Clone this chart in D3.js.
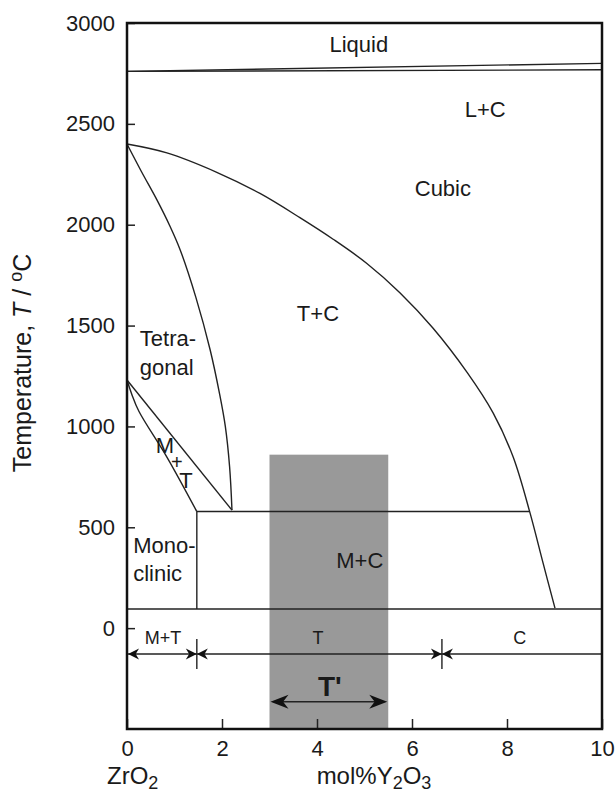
<!DOCTYPE html>
<html>
<head>
<meta charset="utf-8">
<script src="https://cdn.jsdelivr.net/npm/d3@7"></script>
<style>
  body { margin: 0; background: #fff; }
  svg text { font-family: "Liberation Sans", Arial, Helvetica, sans-serif; fill: #1a1a1a; }
</style>
</head>
<body>
<div id="chart"></div>
<script>
// phase boundaries, [mol% Y2O3, temperature in C]
var liquidus = [[0, 2760], [10, 2800]];
var solidus = [[0, 2760], [10, 2768]];
var cubicBoundary = [[0, 2400], [0.84, 2356], [1.89, 2260], [2.8, 2155], [3.64, 2035], [4.34, 1928],
  [5.05, 1808], [5.75, 1662], [6.44, 1488], [7.16, 1268], [7.71, 1066], [8.13, 848],
  [8.48, 575], [8.76, 322], [9.01, 99]];
var tetragonalBoundary = [[0, 2400], [0.3, 2265], [0.63, 2123], [0.9, 1995], [1.12, 1875],
  [1.45, 1640], [1.75, 1380], [1.95, 1160], [2.07, 1000], [2.16, 800], [2.21, 585]];
var mtUpper = [[0, 1230], [2.21, 585]];
var mtLower = [[0, 1230], [0.1, 1160], [0.25, 1075], [0.84, 848], [1.47, 578]];
var monoclinicEdge = [[1.47, 578], [1.47, 95]];
var eutectoid = [[1.47, 578], [8.48, 578]];
var lowLine = [[0, 95], [10, 95]];

// room temperature phase fields
var roomT = -128;
var roomBounds = [0, 1.47, 6.63, 10];
var roomLabels = ["M+T", "T", "C"];
var roomLabelX = [0.76, 4.02, 8.27];

// metastable tetragonal window
var tPrimeRange = [3.0, 5.5];
var tPrimeTop = 860;
var tPrimeArrowT = -365;

// region labels: [text, x, T]
var regionLabels = [["Liquid", 4.88, 2892], ["L+C", 7.54, 2570], ["Cubic", 6.65, 2183],
  ["T+C", 4.02, 1563], ["M+C", 4.9, 337]];

var xTicks = [0, 2, 4, 6, 8, 10];
var yTicks = [0, 500, 1000, 1500, 2000, 2500, 3000];

var w = 615, h = 796;
var x = d3.scaleLinear().domain([0, 10]).range([127, 602]);
var y = d3.scaleLinear().domain([-500, 3000]).range([729, 23]);

var svg = d3.select("#chart").append("svg")
  .attr("width", w)
  .attr("height", h);

// grey T' band
svg.append("rect")
  .attr("x", x(tPrimeRange[0]))
  .attr("y", y(tPrimeTop))
  .attr("width", x(tPrimeRange[1]) - x(tPrimeRange[0]))
  .attr("height", y(-500) - y(tPrimeTop))
  .attr("fill", "#999");

var straight = d3.line()
  .x(function(d) { return x(d[0]); })
  .y(function(d) { return y(d[1]); });
var smooth = d3.line()
  .x(function(d) { return x(d[0]); })
  .y(function(d) { return y(d[1]); })
  .curve(d3.curveCatmullRom.alpha(0.5));

var lines = svg.append("g")
  .attr("fill", "none")
  .attr("stroke", "#222")
  .attr("stroke-width", 1.4);

[liquidus, solidus, mtUpper, monoclinicEdge, eutectoid, lowLine].forEach(function(d) {
  lines.append("path").attr("d", straight(d));
});
[cubicBoundary, tetragonalBoundary, mtLower].forEach(function(d) {
  lines.append("path").attr("d", smooth(d));
});

// room temperature arrows
lines.append("line")
  .attr("x1", x(0)).attr("x2", x(10))
  .attr("y1", y(roomT)).attr("y2", y(roomT));

function arrowHead(g, tipX, tipY, dir, len, half) {
  var notch = len * 0.3;
  g.append("path")
    .attr("d", "M" + tipX + "," + tipY +
      "L" + (tipX - dir * len) + "," + (tipY - half) +
      "L" + (tipX - dir * (len - notch)) + "," + tipY +
      "L" + (tipX - dir * len) + "," + (tipY + half) + "Z")
    .attr("fill", "#111")
    .attr("stroke", "none");
}

var arrows = svg.append("g");
arrowHead(arrows, x(roomBounds[0]) + 1, y(roomT), -1, 11, 5.5);
roomBounds.slice(1, 3).forEach(function(b) {
  arrowHead(arrows, x(b), y(roomT), 1, 11, 5.5);
  arrowHead(arrows, x(b), y(roomT), -1, 11, 5.5);
  arrows.append("line")
    .attr("x1", x(b)).attr("x2", x(b))
    .attr("y1", y(roomT) - 15).attr("y2", y(roomT) + 15)
    .attr("stroke", "#222").attr("stroke-width", 1.4);
});

svg.selectAll(".roomlabel")
  .data(roomLabels)
  .enter().append("text")
  .attr("class", "roomlabel")
  .attr("x", function(d, i) { return x(roomLabelX[i]); })
  .attr("y", y(roomT) - 10)
  .attr("text-anchor", "middle")
  .attr("font-size", 18)
  .text(function(d) { return d; });

// T' arrow
lines.append("line")
  .attr("x1", x(tPrimeRange[0]) + 4).attr("x2", x(tPrimeRange[1]) - 4)
  .attr("y1", y(tPrimeArrowT)).attr("y2", y(tPrimeArrowT));
arrowHead(arrows, x(tPrimeRange[0]) + 1, y(tPrimeArrowT), -1, 18, 7);
arrowHead(arrows, x(tPrimeRange[1]) - 1, y(tPrimeArrowT), 1, 18, 7);
svg.append("text")
  .attr("x", x(4.27))
  .attr("y", y(tPrimeArrowT) - 6)
  .attr("text-anchor", "middle")
  .attr("font-size", 28)
  .attr("font-weight", "bold")
  .text("T'");

// region labels
svg.selectAll(".region")
  .data(regionLabels)
  .enter().append("text")
  .attr("class", "region")
  .attr("x", function(d) { return x(d[1]); })
  .attr("y", function(d) { return y(d[2]); })
  .attr("dy", "0.35em")
  .attr("text-anchor", "middle")
  .attr("font-size", 22)
  .text(function(d) { return d[0]; });

function stacked(words, vx, temps, anchor, size) {
  words.forEach(function(wd, i) {
    svg.append("text")
      .attr("x", x(vx[i]))
      .attr("y", y(temps[i]))
      .attr("dy", "0.35em")
      .attr("text-anchor", anchor)
      .attr("font-size", size[i])
      .text(wd);
  });
}
stacked(["Tetra-", "gonal"], [0.27, 0.27], [1438, 1295], "start", [22, 22]);
stacked(["Mono-", "clinic"], [0.13, 0.13], [412, 273], "start", [22, 22]);
stacked(["M", "+", "T"], [0.8, 1.05, 1.24], [908, 823, 734], "middle", [22, 20, 22]);

// axes
var yAxis = d3.axisLeft(y).tickValues(yTicks).tickFormat(d3.format("d")).tickSize(-8).tickPadding(12);
var xAxis = d3.axisBottom(x).tickValues(xTicks).tickFormat(d3.format("d")).tickSize(-10).tickPadding(11);

var gy = svg.append("g").attr("transform", "translate(" + x(0) + ",0)").call(yAxis);
var gx = svg.append("g").attr("transform", "translate(0," + y(-500) + ")").call(xAxis);
[gx, gy].forEach(function(g) {
  g.select(".domain").remove();
  g.selectAll(".tick line").attr("stroke", "#222").attr("stroke-width", 1.5);
  g.selectAll(".tick text")
    .attr("font-size", 22)
    .attr("font-family", "Liberation Sans, Arial, sans-serif")
    .attr("fill", "#1a1a1a");
});

// frame
svg.append("rect")
  .attr("x", x(0)).attr("y", y(3000))
  .attr("width", x(10) - x(0))
  .attr("height", y(-500) - y(3000))
  .attr("fill", "none")
  .attr("stroke", "#111")
  .attr("stroke-width", 2.5);

// axis titles
var yt = svg.append("text")
  .attr("transform", "translate(31,363) rotate(-90)")
  .attr("text-anchor", "middle")
  .attr("font-size", 25);
yt.append("tspan").text("Temperature, ");
yt.append("tspan").attr("font-style", "italic").text("T");
yt.append("tspan").text(" /  ");
yt.append("tspan").attr("font-size", 18).attr("dy", -9).text("o");
yt.append("tspan").attr("dy", 9).text("C");

var zr = svg.append("text")
  .attr("x", 107).attr("y", 784)
  .attr("font-size", 24);
zr.append("tspan").text("ZrO");
zr.append("tspan").attr("font-size", 18).attr("dy", 5).text("2");

var mol = svg.append("text")
  .attr("x", 374).attr("y", 784)
  .attr("text-anchor", "middle")
  .attr("font-size", 24);
mol.append("tspan").text("mol%Y");
mol.append("tspan").attr("font-size", 18).attr("dy", 5).text("2");
mol.append("tspan").attr("dy", -5).text("O");
mol.append("tspan").attr("font-size", 18).attr("dy", 5).text("3");
</script>
</body>
</html>
